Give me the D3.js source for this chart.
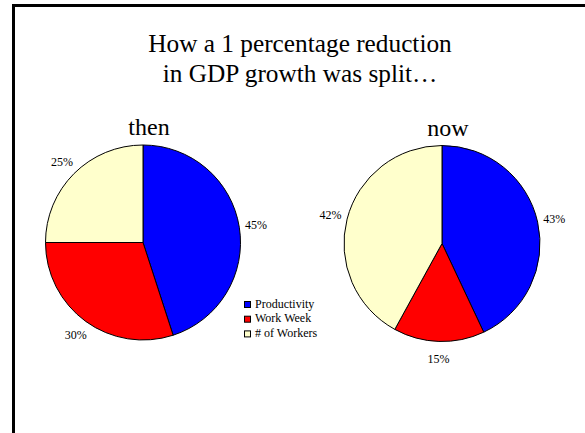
<!DOCTYPE html>
<html>
<head>
<meta charset="utf-8">
<script src="https://cdn.jsdelivr.net/npm/d3@7"></script>
<style>
html,body{margin:0;padding:0;background:#fff;}
svg{display:block;}
text{font-family:"Liberation Serif","Times New Roman",serif;fill:#000;}
</style>
</head>
<body>
<svg id="chart" width="585" height="433"></svg>
<script>
const categories = ["Productivity", "Work Week", "# of Workers"];
const thenValues = [45, 30, 25];
const nowValues = [43, 15, 42];
const panelTitles = ["then", "now"];
const titleLines = ["How a 1 percentage reduction", "in GDP growth was split\u2026"];
const colors = ["#0000FF", "#FF0000", "#FFFFCC"];

const svg = d3.select("#chart");

// frame (top and left edges visible)
svg.append("path")
  .attr("d", "M13.5,433 V5.5 H585")
  .attr("fill", "none").attr("stroke", "#000").attr("stroke-width", 3);

svg.selectAll("text.title").data(titleLines).enter().append("text")
  .attr("class", "title")
  .attr("x", 300).attr("y", (d, i) => 52 + i * 30)
  .attr("text-anchor", "middle")
  .style("font-size", "25.3px")
  .text(d => d);

const color = d3.scaleOrdinal().domain(categories).range(colors);
const pie = d3.pie().sort(null).value(d => d.value);

const panels = [
  {title: panelTitles[0], values: thenValues, cx: 143, cy: 242.5, r: 97.5},
  {title: panelTitles[1], values: nowValues, cx: 442, cy: 243.5, r: 98}
];

panels.forEach(p => {
  const g = svg.append("g").attr("transform", `translate(${p.cx},${p.cy})`);
  const data = categories.map((c, i) => ({cat: c, value: p.values[i]}));
  const arcs = pie(data);
  const arc = d3.arc().innerRadius(0).outerRadius(p.r);
  const labelArc = d3.arc().innerRadius(p.r + 17).outerRadius(p.r + 17);
  g.selectAll("path").data(arcs).enter().append("path")
    .attr("d", arc)
    .attr("fill", d => color(d.data.cat))
    .attr("stroke", "#000").attr("stroke-width", 1).attr("stroke-linejoin", "round");
  g.selectAll("text.lbl").data(arcs).enter().append("text")
    .attr("class", "lbl")
    .attr("transform", d => `translate(${labelArc.centroid(d)})`)
    .attr("text-anchor", "middle")
    .attr("dy", "0.35em")
    .style("font-size", "12px")
    .text(d => d.data.value + "%");
  svg.append("text")
    .attr("x", p.cx + 6).attr("y", p.cy - 108)
    .attr("text-anchor", "middle")
    .style("font-size", "24px")
    .text(p.title);
});

// legend
const leg = svg.append("g").attr("transform", "translate(244,301)");
const rows = leg.selectAll("g").data(categories).enter().append("g")
  .attr("transform", (d, i) => `translate(0,${i * 14.7})`);
rows.append("rect").attr("x", 0.5).attr("y", 0.5).attr("width", 6).attr("height", 6)
  .attr("fill", d => color(d)).attr("stroke", "#000").attr("stroke-width", 1);
rows.append("text").attr("x", 11).attr("y", 6.5)
  .style("font-size", "12px").text(d => d);
</script>
</body>
</html>
